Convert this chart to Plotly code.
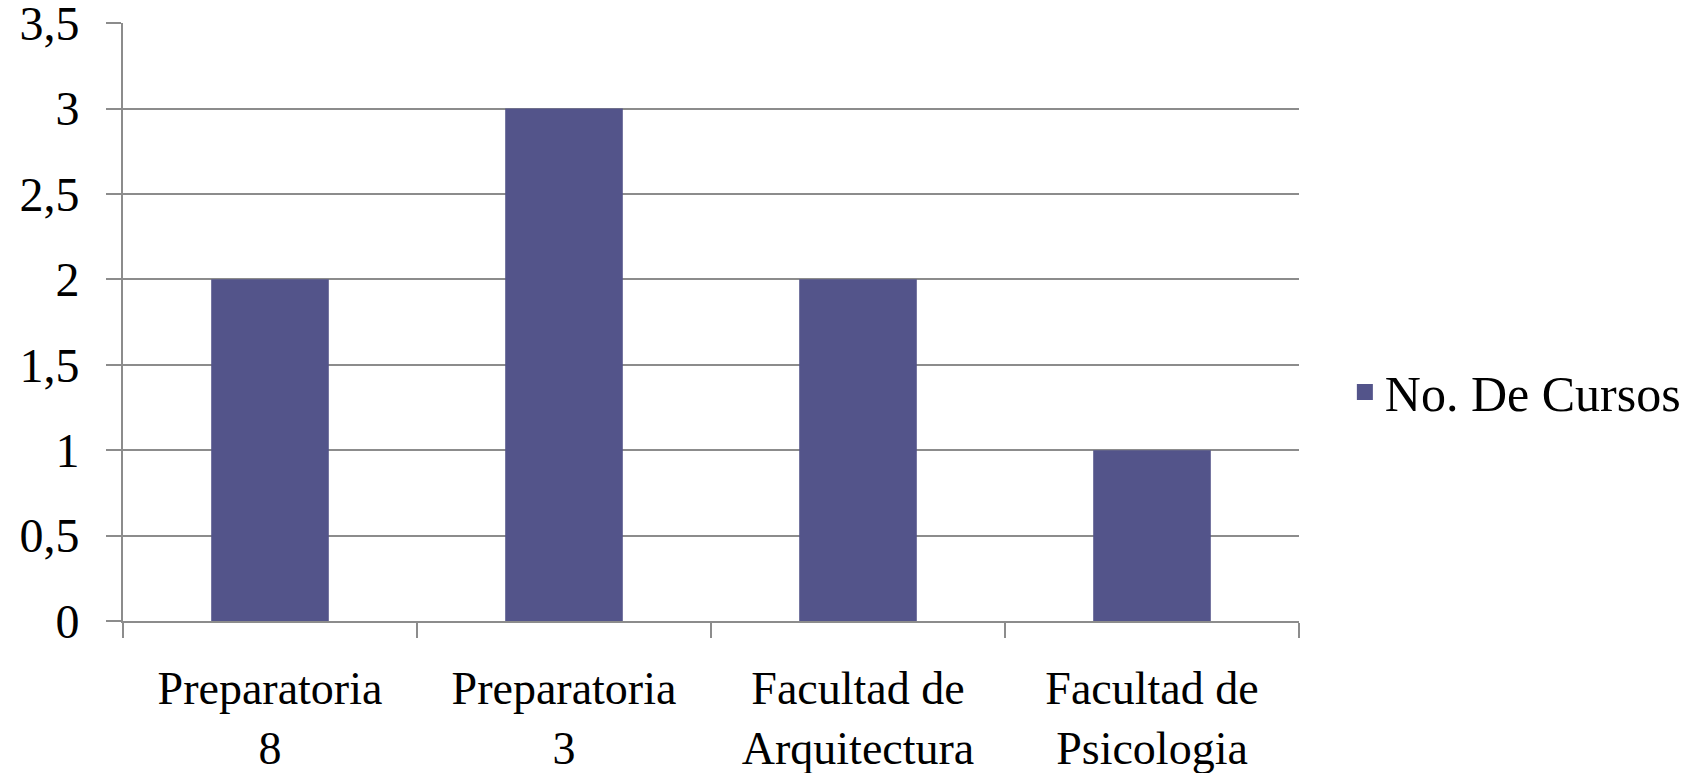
import plotly.graph_objects as go

categories = ["Preparatoria<br>8", "Preparatoria<br>3", "Facultad de<br>Arquitectura", "Facultad de<br>Psicologia"]
values = [2, 3, 2, 1]
series_name = "No. De Cursos"
y_ticks = [0, 0.5, 1, 1.5, 2, 2.5, 3, 3.5]
y_tick_labels = ["0", "0,5", "1", "1,5", "2", "2,5", "3", "3,5"]

grid_color = "#8c8c8c"
bar_color = "#53548a"
font_family = "Liberation Serif, Times New Roman, serif"

fig = go.Figure()
fig.add_trace(go.Bar(
    x=categories, y=values, name=series_name,
    marker=dict(color=bar_color, line=dict(width=0)),
    width=0.4, showlegend=False, legendgroup="s",
))
# legend entry (square swatch)
fig.add_trace(go.Scatter(
    x=[None], y=[None], mode="markers", name=series_name, legendgroup="s",
    marker=dict(symbol="square", size=16, color=bar_color),
    showlegend=True,
))

fig.update_layout(
    width=1702, height=773,
    margin=dict(l=123, r=403, t=23, b=152, autoexpand=False),
    paper_bgcolor="white", plot_bgcolor="white",
    font=dict(family=font_family, color="black", size=50),
    showlegend=True,
    legend=dict(
        x=1.039, xanchor="left", y=0.383, yanchor="middle",
        font=dict(size=50, family=font_family),
        itemwidth=30, itemsizing="trace", bgcolor="rgba(0,0,0,0)",
    ),
    xaxis=dict(
        type="category", automargin=False,
        showline=True, linecolor=grid_color, linewidth=2,
        ticks="outside", tickson="boundaries", ticklen=15, tickcolor=grid_color, tickwidth=2,
        showgrid=False, tickfont=dict(size=46, family=font_family),
        ticklabelstandoff=26,
    ),
    yaxis=dict(
        range=[0, 3.5005], tickvals=y_ticks, ticktext=y_tick_labels, automargin=False,
        showline=True, linecolor=grid_color, linewidth=2,
        showgrid=True, gridcolor=grid_color, gridwidth=2,
        ticks="outside", ticklen=15, tickcolor=grid_color, tickwidth=2,
        zeroline=False, tickfont=dict(size=48, family=font_family),
        ticklabelstandoff=17, ticklabeloverflow="allow",
    ),
    bargap=0.6,
)

fig.write_html(
    "out.html",
    config={"displayModeBar": False},
    post_script="document.body.style.margin='0';document.body.style.overflow='hidden';",
)
